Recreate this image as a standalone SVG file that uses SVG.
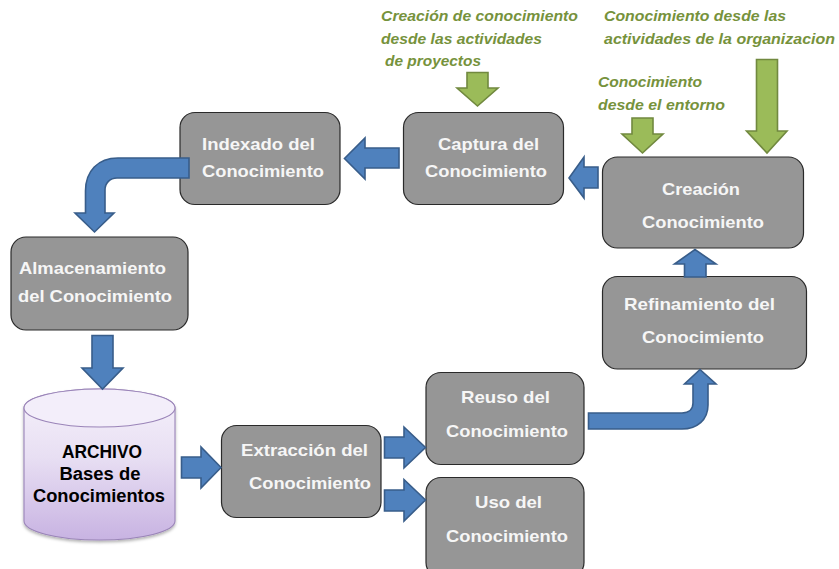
<svg xmlns="http://www.w3.org/2000/svg" width="839" height="569" viewBox="0 0 839 569">
<style>
.box{fill:#969696;stroke:#2a2a2a;stroke-width:1.2}
.t{font-family:"Liberation Sans",Arial,sans-serif;font-weight:700;font-size:17px;fill:#f6f6f6}
.k{font-family:"Liberation Sans",Arial,sans-serif;font-weight:700;font-size:18px;fill:#000;text-anchor:middle}
.g{font-family:"Liberation Sans",Arial,sans-serif;font-weight:700;font-style:italic;font-size:15.5px;fill:#76923c}
.b{fill:#4f81bd;stroke:#385d8a;stroke-width:1.6;stroke-linejoin:miter}
.v{fill:#9bbb59;stroke:#71893f;stroke-width:1.6;stroke-linejoin:miter}
.cyl{stroke:#9a84b8;stroke-width:1.1}
</style>
<defs>
<linearGradient id="cg" x1="0" y1="0" x2="0" y2="1">
<stop offset="0" stop-color="#f6f2fb"/><stop offset="0.45" stop-color="#e8dff3"/><stop offset="1" stop-color="#c8b3e2"/>
</linearGradient>
<filter id="sh" x="-10%" y="-10%" width="120%" height="120%"><feDropShadow dx="0" dy="2" stdDeviation="1.6" flood-color="#000" flood-opacity="0.3"/></filter>
</defs>
<rect width="839" height="569" fill="#fff"/>
<g id="node-archivo">
<path class="cyl" filter="url(#sh)" fill="url(#cg)" d="M24 408A75.500 19 0 0 1 175 408V521A75.500 19 0 0 1 24 521Z"/>
<ellipse class="cyl" cx="99.500" cy="408" rx="75.500" ry="19" fill="#f3eefa"/>
<text class="k" x="102" y="458" textLength="80" lengthAdjust="spacingAndGlyphs">ARCHIVO</text>
<text class="k" x="100" y="480" textLength="81" lengthAdjust="spacingAndGlyphs">Bases de</text>
<text class="k" x="99" y="502" textLength="132" lengthAdjust="spacingAndGlyphs">Conocimientos</text>
</g>
<g id="node-indexado">
<rect class="box" x="180" y="112.500" width="160" height="92" rx="15"/>
<text class="t" x="202" y="150" textLength="113" lengthAdjust="spacingAndGlyphs">Indexado del</text>
<text class="t" x="202" y="177" textLength="122" lengthAdjust="spacingAndGlyphs">Conocimiento</text>
</g>
<g id="node-almacenamiento">
<rect class="box" x="11" y="237" width="177" height="93" rx="15"/>
<text class="t" x="19" y="274" textLength="147" lengthAdjust="spacingAndGlyphs">Almacenamiento</text>
<text class="t" x="18" y="302" textLength="154" lengthAdjust="spacingAndGlyphs">del Conocimiento</text>
</g>
<g id="node-captura">
<rect class="box" x="403.500" y="112.500" width="160" height="92" rx="15"/>
<text class="t" x="438" y="150" textLength="101" lengthAdjust="spacingAndGlyphs">Captura del</text>
<text class="t" x="425" y="177" textLength="122" lengthAdjust="spacingAndGlyphs">Conocimiento</text>
</g>
<g id="node-creacion">
<rect class="box" x="602.500" y="157" width="201" height="91" rx="15"/>
<text class="t" x="662" y="195" textLength="78" lengthAdjust="spacingAndGlyphs">Creación</text>
<text class="t" x="642" y="228" textLength="122" lengthAdjust="spacingAndGlyphs">Conocimiento</text>
</g>
<g id="node-refinamiento">
<rect class="box" x="602.500" y="276.500" width="204" height="92.500" rx="15"/>
<text class="t" x="624" y="310" textLength="151" lengthAdjust="spacingAndGlyphs">Refinamiento del</text>
<text class="t" x="642" y="343" textLength="122" lengthAdjust="spacingAndGlyphs">Conocimiento</text>
</g>
<g id="node-reuso">
<rect class="box" x="426" y="372.500" width="158" height="92" rx="15"/>
<text class="t" x="461" y="403" textLength="89" lengthAdjust="spacingAndGlyphs">Reuso del</text>
<text class="t" x="446" y="437" textLength="122" lengthAdjust="spacingAndGlyphs">Conocimiento</text>
</g>
<g id="node-uso">
<rect class="box" x="426" y="477.500" width="158" height="100" rx="15"/>
<text class="t" x="475" y="508" textLength="67" lengthAdjust="spacingAndGlyphs">Uso del</text>
<text class="t" x="446" y="542" textLength="122" lengthAdjust="spacingAndGlyphs">Conocimiento</text>
</g>
<g id="node-extraccion">
<rect class="box" x="221.500" y="425.500" width="159.500" height="92" rx="15"/>
<text class="t" x="241" y="456" textLength="127" lengthAdjust="spacingAndGlyphs">Extracción del</text>
<text class="t" x="249" y="489" textLength="122" lengthAdjust="spacingAndGlyphs">Conocimiento</text>
</g>
<g id="labels">
<text class="g" x="381" y="21" textLength="197" lengthAdjust="spacingAndGlyphs">Creación de conocimiento</text>
<text class="g" x="381" y="44" textLength="161" lengthAdjust="spacingAndGlyphs">desde las actividades</text>
<text class="g" x="385" y="66" textLength="96" lengthAdjust="spacingAndGlyphs">de proyectos</text>
<text class="g" x="604" y="21" textLength="182" lengthAdjust="spacingAndGlyphs">Conocimiento desde las</text>
<text class="g" x="604" y="44" textLength="231" lengthAdjust="spacingAndGlyphs">actividades de la organizacion</text>
<text class="g" x="598" y="87" textLength="104" lengthAdjust="spacingAndGlyphs">Conocimiento</text>
<text class="g" x="598" y="110" textLength="127" lengthAdjust="spacingAndGlyphs">desde el entorno</text>
</g>
<g id="connectors">
<path class="b" d="M189 158H118C98 158 85.500 171 85.500 191V213H75L94.500 232L114 213H105V190C105 183 110 178 117 178H189Z"/>
<path class="b" d="M92 335.500H113V368H123L102.500 389L82 368H92Z"/>
<path class="b" d="M181.500 457H201V447L221 467.500L201 488V478H181.500Z"/>
<path class="b" d="M384.500 437H404V427L425.500 447.500L404 468V458H384.500Z"/>
<path class="b" d="M384.500 490H404V479.500L425.500 500L404 521V511H384.500Z"/>
<path class="b" d="M399 148H365V138L344.500 158.500L365 179V168H399Z"/>
<path class="b" d="M598 167H584V157L569 178L584 198V188H598Z"/>
<path class="b" d="M684.500 277V264H674.500L695 249.500L716 264H706V277Z"/>
<path class="b" d="M588.500 413H682C689 413 693 409 693 403V384H684.500L700 369.500L716 384H708V405C708 420 697 429 682 429H588.500Z"/>
<path class="v" d="M467 72.500H488V88H498L477.500 106L457 88H467Z"/>
<path class="v" d="M632 118H653V134H663L642.500 153L622 134H632Z"/>
<path class="v" d="M756.500 59.500H777.500V131H787L767 153L746.500 131H756.500Z"/>
</g>
</svg>
